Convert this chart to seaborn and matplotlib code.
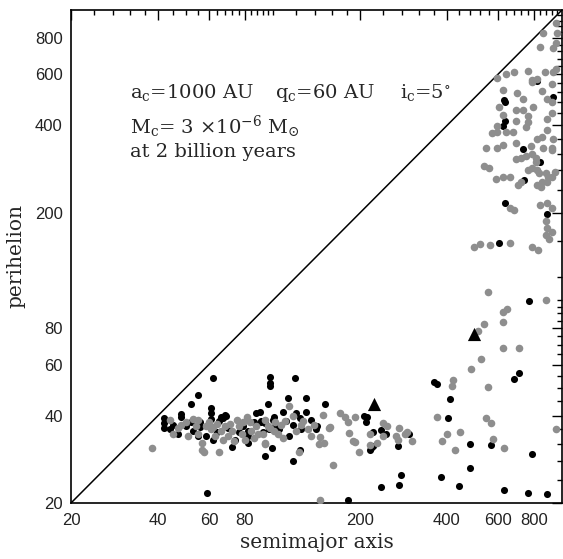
import numpy as np
import pandas as pd
import matplotlib
matplotlib.use("Agg")
import matplotlib.pyplot as plt
import seaborn as sns
from matplotlib.ticker import FixedLocator, FixedFormatter, NullFormatter

# ---------------- data (semimajor axis a, perihelion q) ----------------
black_a = [42, 42, 42, 44, 47, 48, 48, 50, 52, 52, 55, 55, 56, 58.5, 59, 61, 61, 61, 62, 62,
           65, 66, 68, 70, 72, 76, 79, 82, 82, 87, 91, 92, 94, 96, 98, 98, 98, 101,
           91, 94, 100, 102, 105, 108, 111, 114, 117, 120, 124, 125, 130, 135, 142, 90,
           113, 130, 151, 119, 117, 124, 99, 56, 67, 69, 74, 82, 45, 53, 64, 86, 97,
           141, 207, 212, 210, 222, 218, 222, 216, 236, 246, 271, 296, 273, 277, 236, 182,
           361, 368, 410, 404, 380, 440, 480, 480, 570, 628, 764, 890, 790, 681, 711, 771,
           630, 822, 929, 637, 637, 624, 730, 838, 740, 637, 885, 603]
black_q = [39.2, 37.6, 36.3, 35.9, 34.6, 40.5, 39.5, 36.8, 37.9, 44, 47, 34, 37.9, 34, 21.6, 42.5, 41, 39, 54, 33,
           38.2, 39.5, 40.2, 36.4, 31.2, 35, 36.8, 32.3, 34, 40.9, 37.9, 35, 29, 44, 54.5, 52, 50.5, 39.6,
           38.4, 37.8, 38.7, 36.8, 35.9, 41.3, 38.4, 34, 37.2, 40.9, 39.3, 35.9, 41.3, 38.7, 36.8, 41.3,
           46, 46, 44, 54, 28, 30.5, 31, 36.5, 39.3, 39.8, 33, 35.5, 37, 35.5, 35, 38, 36,
           36, 40, 39.6, 38, 35.2, 31, 31.4, 30.5, 35.6, 34.6, 31.4, 34.6, 23, 24.9, 22.7, 20.5,
           52.4, 51.6, 45.8, 39.3, 24.6, 22.9, 32, 26.4, 31.6, 22.2, 21.7, 21.5, 29.4, 53.4, 56, 99,
           490, 570, 502, 483, 413, 397, 331, 300, 260, 216, 198, 158]

gray_a = [38, 44, 45, 47, 50, 51, 54, 55, 57, 57.5, 58.5, 61, 63, 65, 66, 68, 70, 72, 73, 76,
          78, 81, 83, 84, 87, 89, 94, 94, 98, 102, 57,
          96, 101, 104, 110, 114, 117, 120, 127, 132, 135, 139, 145, 150, 156, 123, 94, 144,
          48, 53, 60, 64, 75, 80, 86, 92, 107, 62, 71, 55, 67, 79, 108, 125,
          148.6, 157, 170, 178, 182, 183, 189, 192, 198, 192, 216, 216, 240, 248, 240, 229,
          267, 270, 273, 286, 291, 303, 145, 161,
          420, 417, 368, 400, 385, 444, 426, 547, 570, 575, 630, 955, 484, 524, 553, 624,
          711, 512, 538, 624, 624, 644, 553, 877,
          495, 520, 565, 660, 785, 825,
          877, 885, 920, 877, 905, 660, 680, 838, 890, 925,
          591, 627, 660, 720, 705, 538, 560, 760, 790, 820, 877, 895, 820, 845, 885, 920,
          949, 811, 830, 851, 692, 720, 750,
          790, 811, 862, 920, 547, 596, 627, 692, 780, 920,
          573, 596, 640, 675, 750, 596, 624, 692, 764, 760, 850, 820, 930, 890, 885, 920,
          603, 735, 692, 796, 730, 700, 624, 850, 885, 920, 920,
          598, 641, 682, 764, 789, 873, 820, 790, 930, 950,
          950, 960, 950, 930, 860, 840]
gray_q = [31, 38.7, 34.6, 36.4, 37.9, 34, 36.8, 34.7, 32.3, 30, 36.8, 35.9, 34, 30, 35.5, 36.8, 34, 35.5, 32.6, 36.8,
          34.6, 39.6, 37.9, 35.5, 36.8, 34.6, 32.3, 38.7, 36.4, 37.9, 30.5,
          36.8, 35.5, 34.6, 38.4, 43.1, 40, 35.5, 38.4, 35.9, 34, 37.2, 33.7, 32.3, 36.4, 30, 32, 32,
          37, 39, 38, 37.5, 38.5, 33, 33.5, 34.5, 37, 36.5, 37.5, 38.5, 33, 38, 33.5, 37,
          40.2, 36.6, 41, 39.6, 38, 34.8, 32.6, 32.4, 30, 39.6, 34.6, 31.7, 37.7, 36.8, 34, 32.3,
          34, 33, 36.2, 34.6, 35.2, 32.6, 20.5, 27,
          53, 50.8, 39.6, 34.6, 32.6, 35, 30.5, 39.3, 37.8, 33.2, 31, 36, 58, 62.5, 50.4, 68.4,
          68.4, 78, 83, 84, 91, 93, 107, 100,
          153, 156, 155, 157, 152, 149,
          187, 177, 172, 168, 162, 208, 204, 213, 216, 208,
          261, 265, 266, 255, 250, 289, 285, 281, 285, 281, 275, 266, 250, 245, 255, 266,
          277, 300, 275, 255, 306, 310, 314,
          318, 310, 334, 334, 334, 334, 342, 348, 339, 330,
          376, 381, 381, 381, 394, 397, 436, 413, 410, 430, 366, 358, 358, 387, 420, 443,
          463, 454, 454, 463, 493, 518, 532, 525, 493, 480, 555,
          584, 600, 610, 615, 575, 610, 578, 565, 610, 625,
          900, 830, 770, 740, 830, 745]

tri_a = [224, 496]
tri_q = [44, 76.5]

major_vals = [20, 40, 60, 80, 200, 400, 600, 800]
major_labels = ["20", "40", "60", "80", "200", "400", "600", "800"]
x_minor = [24, 28, 32, 36, 45, 50, 55, 64, 68, 72, 76, 84, 88, 92, 96, 100,
           120, 140, 160, 180] + list(range(240, 1000, 40))
y_minor = [24, 28, 32, 36, 45, 50, 55, 65, 70, 75, 85, 90, 95, 100,
           120, 160] + list(range(240, 1000, 40))
x_minor = [v for v in x_minor if v not in major_vals]
y_minor = [v for v in y_minor if v not in major_vals]

# ---------------- figure ----------------
sns.set_theme(style="white")
plt.rcParams["font.family"] = ["Liberation Sans", "DejaVu Sans"]
plt.rcParams["mathtext.fontset"] = "dejavuserif"

fig = plt.figure(figsize=(5.63, 5.59), dpi=100)
ax = fig.add_axes([71 / 563, 56 / 559, 491 / 563, 493 / 559])

df_b = pd.DataFrame({"a": black_a, "q": black_q})
df_g = pd.DataFrame({"a": gray_a, "q": gray_q})
df_t = pd.DataFrame({"a": tri_a, "q": tri_q})

ax.plot([20, 1000], [20, 1000], color="black", lw=1.1, zorder=1)
sns.scatterplot(data=df_b, x="a", y="q", ax=ax, color="black", s=26, linewidth=0, zorder=2)
sns.scatterplot(data=df_g, x="a", y="q", ax=ax, color="#8e8e8e", s=30, linewidth=0, zorder=3)
sns.scatterplot(data=df_t, x="a", y="q", ax=ax, color="black", marker="^", s=90, linewidth=0, zorder=4)

ax.set_xscale("log")
ax.set_yscale("log")
ax.set_xlim(20, 1000)
ax.set_ylim(20, 1000)

for axis, minors in ((ax.xaxis, x_minor), (ax.yaxis, y_minor)):
    axis.set_major_locator(FixedLocator(major_vals))
    axis.set_major_formatter(FixedFormatter(major_labels))
    axis.set_minor_locator(FixedLocator(minors))
    axis.set_minor_formatter(NullFormatter())

ax.tick_params(which="both", direction="in", top=True, right=True, color="black", width=1.0)
ax.tick_params(which="major", length=7, labelsize=12, labelcolor="#222222")
ax.tick_params(which="minor", length=3.5)
ax.tick_params(axis="x", which="major", pad=7)
ax.tick_params(axis="y", which="major", pad=6)
for sp in ax.spines.values():
    sp.set_color("black")
    sp.set_linewidth(1.2)

ax.set_xlabel("semimajor axis", family="DejaVu Serif", fontsize=14.5, labelpad=4)
ax.set_ylabel("perihelion", family="DejaVu Serif", fontsize=14.5, labelpad=7)

tkw = dict(transform=ax.transAxes, family="DejaVu Serif", fontsize=14, va="center", ha="left")
ax.text(0.12, 0.832, r"a$_\mathrm{c}$=1000 AU", **tkw)
ax.text(0.415, 0.832, r"q$_\mathrm{c}$=60 AU", **tkw)
ax.text(0.670, 0.832, r"i$_\mathrm{c}$=5$^{\circ}$", **tkw)
ax.text(0.12, 0.763, r"M$_\mathrm{c}$= 3 $\times$10$^{-6}$ M$_{\odot}$", **tkw)
ax.text(0.12, 0.712, "at 2 billion years", **tkw)

fig.savefig("out.png", dpi=100)
